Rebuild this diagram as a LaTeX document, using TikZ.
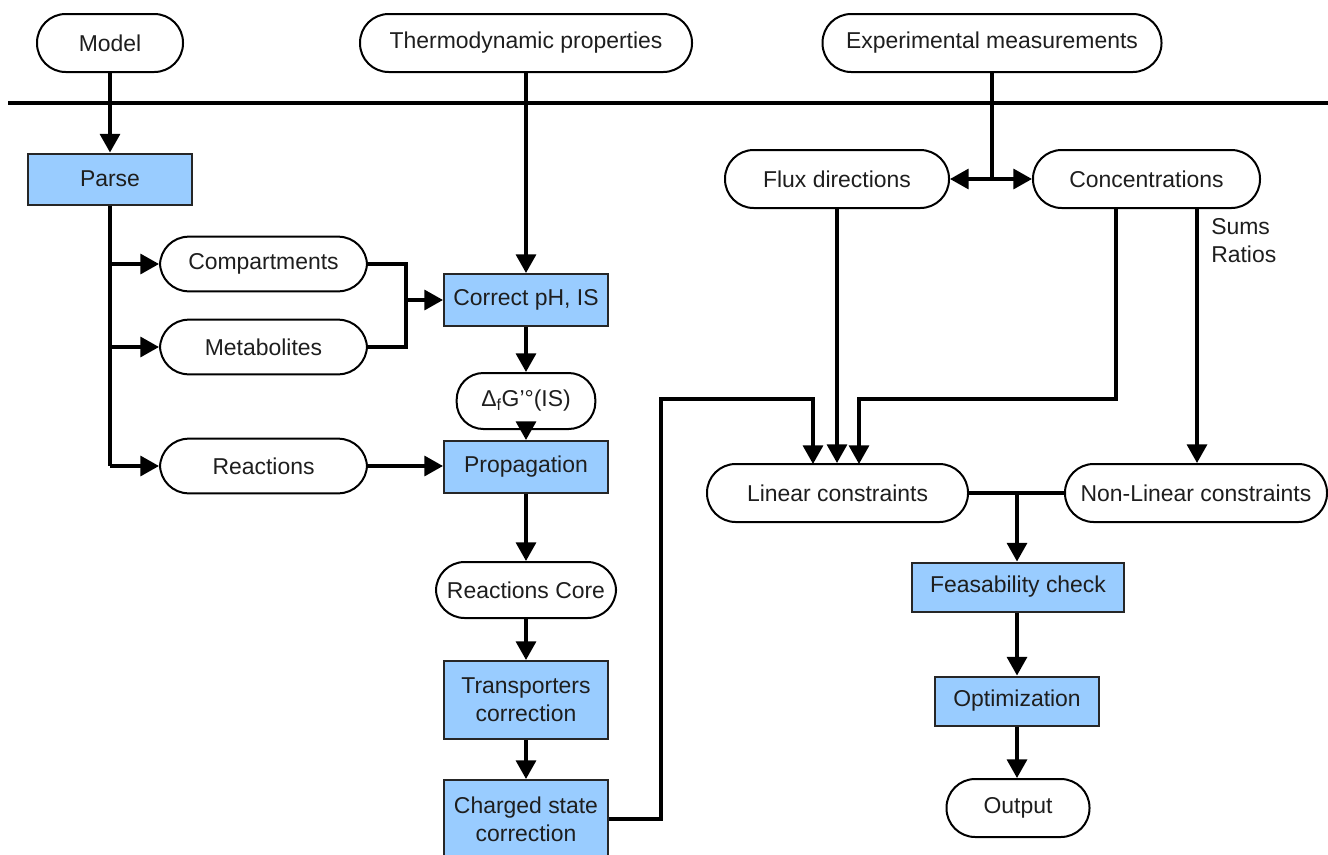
\documentclass[tikz,border=0pt]{standalone}
\usepackage{fontspec}
\setmainfont{Liberation Sans}
\usetikzlibrary{arrows.meta}
\definecolor{boxblue}{RGB}{153,204,255}
\definecolor{txt}{RGB}{30,30,30}
\begin{document}
\begin{tikzpicture}[x=0.75pt,y=-0.75pt,
  font=\fontsize{17.2pt}{21pt}\selectfont, text=txt,
  stad/.style={draw=black, line width=1.5pt, rounded corners=21.5pt, minimum height=43.5pt, inner sep=0pt, fill=white},
  pbox/.style={draw=black!85, line width=1.5pt, fill=boxblue, inner sep=0pt, align=center},
  conn/.style={line width=2.5pt},
  arr/.style={line width=2.5pt, -{Triangle[width=15pt,length=14pt]}}
]
\useasboundingbox (0,0) rectangle (1328,854);

% top inputs
\node[stad, minimum width=109.5pt] (model) at (110,43) {Model};
\node[stad, minimum width=249pt] (thermo) at (526,43) {Thermodynamic properties};
\node[stad, minimum width=254.25pt] (exper) at (992,43) {Experimental measurements};
\coordinate (hl) at (8,103);
\coordinate (hr) at (1328,103);
\draw[conn] (hl) -- (hr);

% left column
\node[pbox, minimum width=123pt, minimum height=38.25pt] (parse) at (110,179) {Parse};
\node[stad, minimum width=155.25pt, minimum height=41pt] (comp) at (263.5,264) {Compartments};
\node[stad, minimum width=155.25pt, minimum height=41pt] (metab) at (263.5,347) {Metabolites};
\node[stad, minimum width=155.25pt, minimum height=41pt] (reac) at (263.5,466) {Reactions};

% middle column
\node[pbox, minimum width=123pt, minimum height=39pt] (corr) at (526,300) {Correct pH, IS};
\node[stad, minimum width=104pt, minimum height=42pt, rounded corners=20pt] (dfg) at (526,401) {Δ\textsubscript{f}G’°(IS)};
\node[pbox, minimum width=123pt, minimum height=39pt] (prop) at (526,467) {Propagation};
\node[stad, minimum width=135pt, minimum height=42pt] (rcore) at (526,590) {Reactions Core};
\node[pbox, minimum width=123pt, minimum height=58.5pt] (trans) at (526,700) {Transporters\\correction};
\node[pbox, minimum width=123pt, minimum height=58.5pt] (charg) at (526,819) {Charged state\\correction};

% right part
\node[stad, minimum width=168pt] (flux) at (837,179) {Flux directions};
\node[stad, minimum width=170.25pt] (conc) at (1146.5,179) {Concentrations};
\node[anchor=west, align=left, inner sep=0pt] (sums) at (1211,241) {Sums\\Ratios};
\node[stad, minimum width=195.75pt] (lin) at (837.5,493) {Linear constraints};
\node[stad, minimum width=196.5pt] (nlin) at (1196,493) {Non-Linear constraints};
\node[pbox, minimum width=159pt, minimum height=36.75pt] (feas) at (1018,587) {Feasability check};
\node[pbox, minimum width=123pt, minimum height=36.75pt] (optim) at (1017,701) {Optimization};
\node[stad, minimum width=107.25pt] (out) at (1018,808) {Output};

% connectors: top
\draw[arr] (model.south) -- (parse.north);
\draw[arr] (thermo.south) -- (corr.north);
\coordinate (ej) at (exper.south |- flux.east);
\draw[conn] (exper.south) -- (ej);
\draw[arr] (ej) -- (flux.east);
\draw[arr] (ej) -- (conc.west);

% parse branches
\coordinate (pb) at (parse.south |- reac.west);
\draw[conn] (parse.south) -- (pb);
\draw[arr] (parse.south |- comp.west) -- (comp.west);
\draw[arr] (parse.south |- metab.west) -- (metab.west);
\draw[arr] (pb) -- (reac.west);

% compartments + metabolites merge
\coordinate (cm1) at (406,264);
\coordinate (cm2) at (406,347);
\coordinate (cmj) at (406,300);
\draw[conn] (comp.east) -- (cm1) -- (cm2) -- (metab.east);
\draw[arr] (cmj) -- (corr.west);

% middle chain
\draw[arr] (corr.south) -- (dfg.north);
\draw[arr] (dfg.south) -- (prop.north);
\draw[arr] (reac.east) -- (reac.east -| prop.west);
\draw[arr] (prop.south) -- (rcore.north);
\draw[arr] (rcore.south) -- (trans.north);
\draw[arr] (trans.south) -- (charg.north);

% charged -> linear
\coordinate (c1) at (661,819);
\coordinate (c2) at (661,399);
\coordinate (c3) at (813,399);
\coordinate (c4) at (813,464);
\draw[arr] (charg.east) -- (c1) -- (c2) -- (c3) -- (c4);

% flux -> linear
\draw[arr] (flux.south) -- (flux.south |- lin.north);

% concentrations -> linear
\coordinate (k0) at (1116,208);
\coordinate (k1) at (1116,399);
\coordinate (k2) at (859,399);
\coordinate (k3) at (859,464);
\draw[arr] (k0) -- (k1) -- (k2) -- (k3);

% concentrations -> non-linear
\coordinate (n0) at (1197,208);
\draw[arr] (n0) -- (n0 |- nlin.north);

% linear + nonlinear -> feasability
\coordinate (lj) at (1017,493);
\draw[conn] (lin.east) -- (nlin.west);
\draw[arr] (lj) -- (lj |- feas.north);
\draw[arr] (feas.south -| optim.north) -- (optim.north);
\draw[arr] (optim.south) -- (optim.south |- out.north);
\end{tikzpicture}
\end{document}
